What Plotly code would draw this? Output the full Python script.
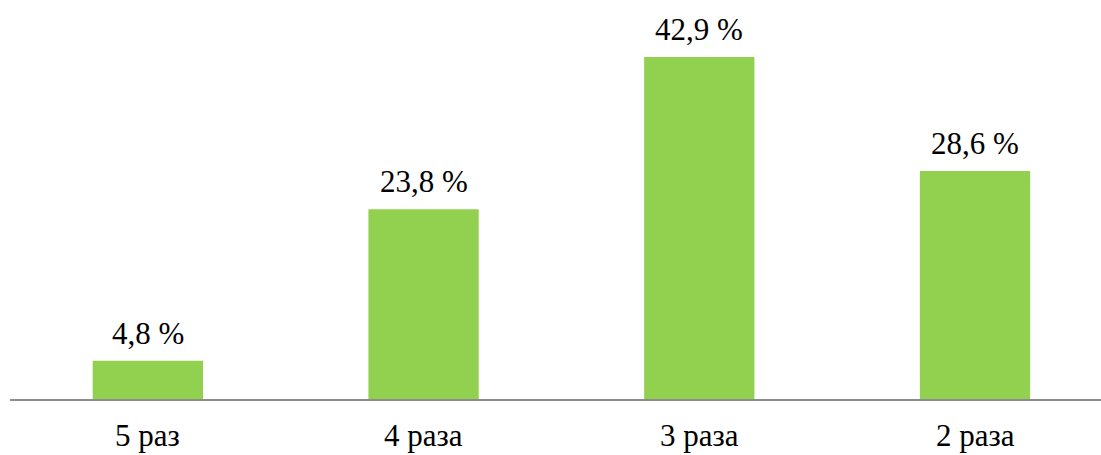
import plotly.graph_objects as go

categories = ["5 раз", "4 раза", "3 раза", "2 раза"]
shares = [4.8, 23.8, 42.9, 28.6]

bar_color = "#92D050"
font_family = "Times"
font_size = 31

labels = [f"{v:.1f}".replace(".", ",") + " %" for v in shares]

fig = go.Figure(
    go.Bar(
        x=list(range(len(categories))),
        y=shares,
        width=0.4,
        marker=dict(color=bar_color, line=dict(width=0)),
        hoverinfo="skip",
    )
)

# value labels above each bar
for i, (v, t) in enumerate(zip(shares, labels)):
    fig.add_annotation(
        x=i, y=v, text=t, showarrow=False,
        yanchor="bottom", yshift=8,
        font=dict(family=font_family, size=font_size, color="black"),
    )

# category labels below the axis
for i, c in enumerate(categories):
    fig.add_annotation(
        x=i, y=0, text=c, showarrow=False,
        yanchor="top", yshift=-17,
        font=dict(family=font_family, size=font_size, color="black"),
    )

fig.update_layout(
    width=1101, height=455,
    margin=dict(l=10, r=0, t=0, b=56),
    plot_bgcolor="white",
    showlegend=False,
    xaxis=dict(
        range=[-0.5, 3.457],
        showticklabels=False,
        showgrid=False, zeroline=False,
        showline=True, linecolor="#8c8c8c", linewidth=2,
        ticks="",
    ),
    yaxis=dict(
        range=[0, 50.05],
        visible=False,
        showgrid=False, zeroline=False,
    ),
)

fig.write_html("out.html")
